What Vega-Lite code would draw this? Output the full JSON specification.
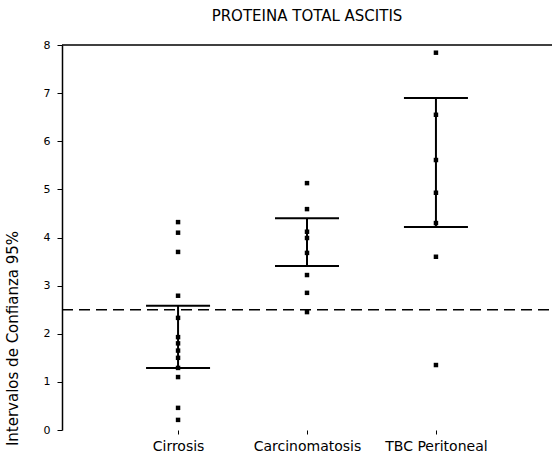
{
  "$schema": "https://vega.github.io/schema/vega-lite/v6.json",
  "autosize": {"type": "none"},
  "width": 490,
  "height": 385,
  "padding": {"left": 62, "top": 45, "right": 4, "bottom": 30},
  "background": "white",
  "config": {
    "view": {"stroke": null},
    "font": "DejaVu Sans",
    "axis": {"labelFont": "DejaVu Sans", "titleFont": "DejaVu Sans", "grid": false, "labelColor": "#000", "titleColor": "#000", "domainColor": "#000", "tickColor": "#000"}
  },
  "title": {"text": "PROTEINA TOTAL ASCITIS", "font": "DejaVu Sans", "fontSize": 15, "fontWeight": "normal", "color": "#000", "offset": 15, "anchor": "middle"},
  "datasets": {
    "puntos": [
      {"grupo": "Cirrosis", "valor": 4.32},
      {"grupo": "Cirrosis", "valor": 4.1},
      {"grupo": "Cirrosis", "valor": 3.7},
      {"grupo": "Cirrosis", "valor": 2.79},
      {"grupo": "Cirrosis", "valor": 2.33},
      {"grupo": "Cirrosis", "valor": 1.93},
      {"grupo": "Cirrosis", "valor": 1.8},
      {"grupo": "Cirrosis", "valor": 1.65},
      {"grupo": "Cirrosis", "valor": 1.5},
      {"grupo": "Cirrosis", "valor": 1.29},
      {"grupo": "Cirrosis", "valor": 1.1},
      {"grupo": "Cirrosis", "valor": 0.46},
      {"grupo": "Cirrosis", "valor": 0.21},
      {"grupo": "Carcinomatosis", "valor": 5.13},
      {"grupo": "Carcinomatosis", "valor": 4.59},
      {"grupo": "Carcinomatosis", "valor": 4.12},
      {"grupo": "Carcinomatosis", "valor": 3.99},
      {"grupo": "Carcinomatosis", "valor": 3.68},
      {"grupo": "Carcinomatosis", "valor": 3.22},
      {"grupo": "Carcinomatosis", "valor": 2.85},
      {"grupo": "Carcinomatosis", "valor": 2.45},
      {"grupo": "TBC Peritoneal", "valor": 7.84},
      {"grupo": "TBC Peritoneal", "valor": 6.55},
      {"grupo": "TBC Peritoneal", "valor": 5.61},
      {"grupo": "TBC Peritoneal", "valor": 4.93},
      {"grupo": "TBC Peritoneal", "valor": 4.3},
      {"grupo": "TBC Peritoneal", "valor": 3.6},
      {"grupo": "TBC Peritoneal", "valor": 1.35}
    ],
    "ic": [
      {"grupo": "Cirrosis", "inferior": 1.29, "superior": 2.58},
      {"grupo": "Carcinomatosis", "inferior": 3.41, "superior": 4.4},
      {"grupo": "TBC Peritoneal", "inferior": 4.22, "superior": 6.9}
    ]
  },
  "encoding": {
    "x": {
      "field": "grupo", "type": "nominal",
      "sort": ["Cirrosis", "Carcinomatosis", "TBC Peritoneal"],
      "scale": {"type": "point", "padding": 0.9},
      "axis": {"title": null, "domain": false, "tickSize": 4, "labelPadding": 5, "labelFontSize": 14, "labelAngle": 0}
    }
  },
  "layer": [
    {
      "data": {"name": "ic"},
      "mark": {"type": "rule", "color": "#000", "strokeWidth": 2},
      "encoding": {
        "y": {
          "field": "inferior", "type": "quantitative",
          "scale": {"domain": [0, 8], "nice": false, "zero": false},
          "axis": {"title": "Intervalos de Confianza 95%", "titleFontSize": 15, "titleFontWeight": "normal", "titleX": -42, "titleY": 293, "values": [0, 1, 2, 3, 4, 5, 6, 7, 8], "tickSize": 5, "labelPadding": 7, "labelFontSize": 11, "domainWidth": 1.5}
        },
        "y2": {"field": "superior"}
      }
    },
    {
      "data": {"name": "ic"},
      "mark": {"type": "tick", "color": "#000", "size": 64, "thickness": 2, "opacity": 1},
      "encoding": {"y": {"field": "inferior", "type": "quantitative"}}
    },
    {
      "data": {"name": "ic"},
      "mark": {"type": "tick", "color": "#000", "size": 64, "thickness": 2, "opacity": 1},
      "encoding": {"y": {"field": "superior", "type": "quantitative"}}
    },
    {
      "data": {"name": "puntos"},
      "mark": {"type": "point", "shape": "square", "filled": true, "color": "#000", "size": 20, "opacity": 1},
      "encoding": {"y": {"field": "valor", "type": "quantitative"}}
    },
    {
      "data": {"values": [{}]},
      "mark": {"type": "rule", "color": "#000", "strokeWidth": 1.5, "strokeDash": [11, 6]},
      "encoding": {"y": {"datum": 2.5, "type": "quantitative"}, "x": {"value": 0}, "x2": {"value": 490}}
    },
    {
      "data": {"values": [{}]},
      "mark": {"type": "rule", "color": "#000", "strokeWidth": 1.5},
      "encoding": {"y": {"datum": 8, "type": "quantitative"}, "x": {"value": 0}, "x2": {"value": 490}}
    }
  ]
}
